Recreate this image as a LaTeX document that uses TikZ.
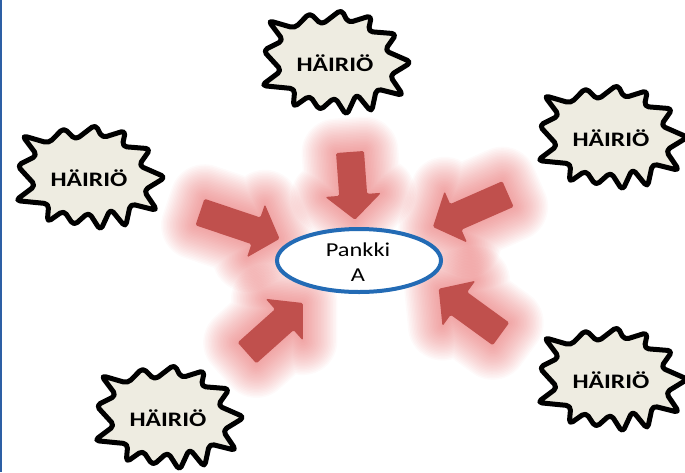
\documentclass[tikz,border=0pt]{standalone}
\usepackage{fontspec}
\setmainfont{Carlito}
\usetikzlibrary{shapes.geometric}
\definecolor{arrowred}{RGB}{192,80,77}
\definecolor{glowred}{RGB}{228,85,85}
\definecolor{burstfill}{RGB}{238,236,225}
\definecolor{bankblue}{RGB}{35,107,181}
\definecolor{edgeblue}{RGB}{45,95,165}
\tikzset{
 burstshape/.style={draw=black, fill=burstfill, line width=5pt, line join=round, rounded corners=4.5pt},
 burstlabel/.style={inner sep=0pt, anchor=base, font=\fontsize{20.6}{24}\selectfont\bfseries, text=black},
 glowstroke/.style={draw=glowred, draw opacity=0.032, line join=round},
 arrowbody/.style={fill=arrowred, rounded corners=1.5pt},
 bankshape/.style={ellipse, draw=bankblue, fill=white, line width=4pt, minimum width=164pt, minimum height=63pt, inner sep=0pt},
 banklabel/.style={inner sep=0pt, anchor=base, font=\fontsize{19.7}{25}\selectfont, text=black},
}
\begin{document}
\begin{tikzpicture}[x=1pt,y=-1pt]
\useasboundingbox (0,0) rectangle (685,472);
% glows
\foreach \tx/\ty/\ang/\L in {350/152/85.8/68, 200/212/18.6/84, 508/194/156.3/82, 247/353/-41.8/75, 501/334/-144/77} {
  \begin{scope}[shift={(\tx,\ty)}, rotate={0-(\ang)}]
    \foreach \w in {3,6,...,69}
      \draw[glowstroke, line width=\w pt] (0,-14) -- ({\L-25},-14) -- ({\L-25},-28) -- (\L,0) -- ({\L-25},28) -- ({\L-25},14) -- (0,14) -- cycle;
  \end{scope}
}
% arrows
\foreach \tx/\ty/\ang/\L in {350/152/85.8/68, 200/212/18.6/84, 508/194/156.3/82, 247/353/-41.8/75, 501/334/-144/77} {
  \begin{scope}[shift={(\tx,\ty)}, rotate={0-(\ang)}]
    \fill[arrowbody] (0,-14) -- ({\L-25},-14) -- ({\L-25},-28) -- (\L,0) -- ({\L-25},28) -- ({\L-25},14) -- (0,14) -- cycle;
  \end{scope}
}
% bank
\node[bankshape] (bank) at (359,260.5) {};
\node[banklabel] (bankname) at (358,256) {\scalebox{1.24}[1]{Pankki}};
\node[banklabel] (bankid) at (358,281) {\scalebox{1.24}[1]{A}};
% bursts
\foreach \nm/\bx/\by in {b1/335/65, b2/89/180, b3/611/140, b4/611/382, b5/168/420} {
  \draw[burstshape, shift={(\bx,\by)}]
    (-66.8,-44.5) -- (-40.2,-36.8) -- (-25.2,-52.2) -- (-13.5,-40.2) -- (6.5,-55.5)
    -- (13.2,-42.2) -- (36.5,-49.5) -- (33.2,-33.5) -- (61.5,-31.2) -- (49.8,-14.5)
    -- (76.5,-2.8) -- (54.8,10.5) -- (68.2,30.5) -- (41.5,23.8) -- (36.5,47.2)
    -- (21.5,28.8) -- (11.5,50.5) -- (-0.2,32.2) -- (-15.2,45.5) -- (-25.2,30.5)
    -- (-41.8,42.2) -- (-40.2,23.8) -- (-73.5,20.5) -- (-53.5,5.5) -- (-71.8,-14.5)
    -- (-51.8,-24.5) -- cycle;
  \node[burstlabel] (\nm) at (\bx,\by+6.5) {\scalebox{1.24}[1]{HÄIRIÖ}};
}
% left edge line
\draw[edgeblue, line width=1.5pt] (0.75,0) -- (0.75,472);
\end{tikzpicture}
\end{document}
